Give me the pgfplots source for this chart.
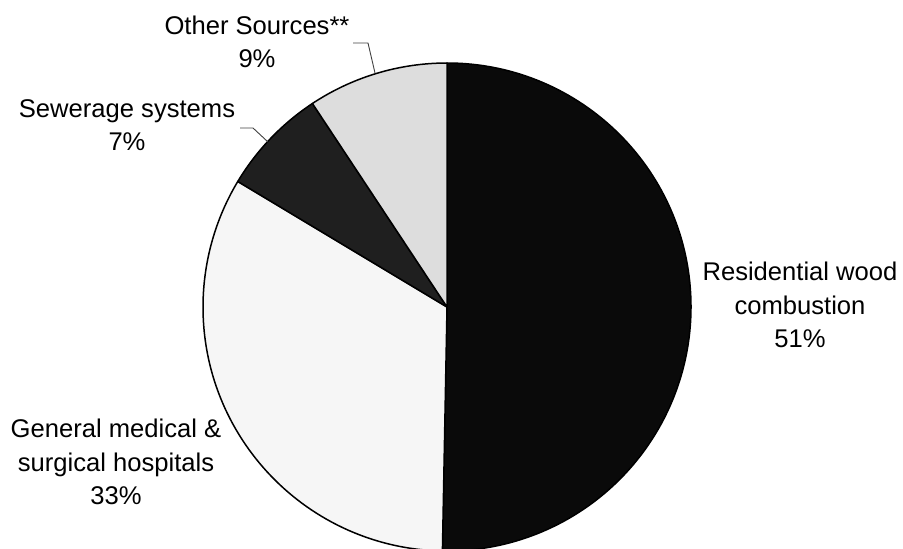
\documentclass[border=0pt]{standalone}
\usepackage{pgfplots}
\pgfplotsset{compat=1.18}
\usepackage{pgfplotstable}
\usepackage{fontspec}
\setmainfont{Liberation Sans}
\definecolor{cRes}{HTML}{0A0A0A}
\definecolor{cHos}{HTML}{F6F6F6}
\definecolor{cSew}{HTML}{1F1F1F}
\definecolor{cOth}{HTML}{DDDDDD}
\definecolor{cLead}{HTML}{404040}
% shares of the pie (percent), clockwise from 12 o'clock
\pgfplotstableread{
value
50.3
33.3
7.1
9.3
}\piedata
\newcommand\pieslice[2]{%
  \fill[#2,draw=black,line width=0.75pt,line join=round]
    (axis cs:447,241) --
    (axis cs:{447+244*cos(\csname pieS#1\endcsname)},{241+244*sin(\csname pieS#1\endcsname)})
    arc[start angle=\csname pieS#1\endcsname, end angle=\csname pieE#1\endcsname, radius=244]
    -- cycle;}
\begin{document}
\begin{tikzpicture}
\gdef\cur{90}
\pgfplotsforeachungrouped \i in {0,1,2,3}{%
  \pgfplotstablegetelem{\i}{value}\of\piedata
  \pgfmathsetmacro\tmpend{\cur-3.6*\pgfplotsretval}%
  \expandafter\xdef\csname pieS\i\endcsname{\cur}%
  \expandafter\xdef\csname pieE\i\endcsname{\tmpend}%
  \xdef\cur{\tmpend}%
}
\begin{axis}[name=ax, x=0.5pt, y=0.5pt, xmin=0, xmax=903, ymin=0, ymax=548,
  hide axis, clip=true]
\pieslice{0}{cRes}
\pieslice{1}{cHos}
\pieslice{2}{cSew}
\pieslice{3}{cOth}
\draw[cLead, line width=0.45pt] (axis cs:375,475) -- (axis cs:368,505) -- (axis cs:353,505);
\draw[cLead, line width=0.45pt] (axis cs:268,406) -- (axis cs:253,420) -- (axis cs:240,420);
\begin{scope}[every node/.style={align=center, font=\fontsize{12.8}{16.75}\selectfont, inner sep=0pt}]
\node at (axis cs:800,243) {Residential wood\\combustion\\51\%};
\node at (axis cs:116,86) {General medical \&\\surgical hospitals\\33\%};
\node at (axis cs:127,423) {Sewerage systems\\7\%};
\node at (axis cs:257,506) {Other Sources**\\9\%};
\end{scope}
\end{axis}
\pgfresetboundingbox
\path (ax.south west) rectangle (ax.north east);
\end{tikzpicture}
\end{document}
